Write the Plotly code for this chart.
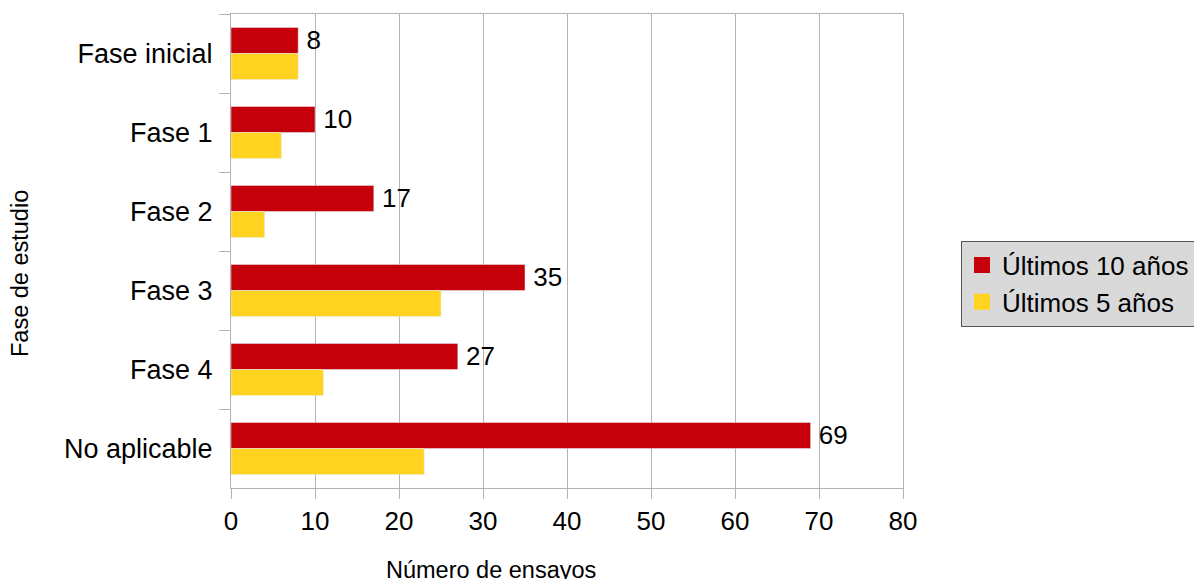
import plotly.graph_objects as go

# Ensayos clínicos por fase de estudio
fases = ["Fase inicial", "Fase 1", "Fase 2", "Fase 3", "Fase 4", "No aplicable"]
ultimos_10 = [8, 10, 17, 35, 27, 69]
ultimos_5 = [8, 6, 4, 25, 11, 23]
x_ticks = [0, 10, 20, 30, 40, 50, 60, 70, 80]

ROJO = "#C5000B"
AMARILLO = "#FFD320"
GRIS = "#b3b3b3"
FONT = "Liberation Sans, Arial, sans-serif"

W, H = 1194, 579
L, R, T, B = 231, 903, 14, 488

fig = go.Figure()
fig.add_trace(go.Bar(
    y=fases, x=ultimos_10, orientation="h", marker_color=ROJO,
    name="Últimos 10 años", showlegend=False,
    text=ultimos_10, texttemplate="\u2009%{text}",
    textposition="outside", constraintext="none",
    textfont=dict(size=26, color="#000000", family=FONT), cliponaxis=False,
))
fig.add_trace(go.Bar(
    y=fases, x=ultimos_5, orientation="h", marker_color=AMARILLO,
    name="Últimos 5 años", showlegend=False,
))
# legend entries with larger square swatches
for nombre, color in [("Últimos 10 años", ROJO), ("Últimos 5 años", AMARILLO)]:
    fig.add_trace(go.Scatter(
        x=[None], y=[None], mode="markers", name=nombre,
        marker=dict(symbol="square", size=16, color=color),
    ))

fig.update_layout(
    width=W, height=H,
    margin=dict(l=L, r=W - R, t=T, b=H - B, autoexpand=False),
    paper_bgcolor="white", plot_bgcolor="white",
    barmode="group", bargap=0.34, bargroupgap=0,
    font=dict(family=FONT, size=26, color="#000000"),
    showlegend=True,
    legend=dict(
        x=(961 - L) / (R - L), xanchor="left",
        y=(B - 283.5) / (B - T), yanchor="middle",
        bgcolor="#d9d9d9", bordercolor="#555555", borderwidth=1,
        font=dict(size=26, family=FONT, color="#000000"),
        tracegroupgap=0,
    ),
    xaxis=dict(
        range=[0, 80], tickvals=x_ticks, ticktext=[str(v) for v in x_ticks],
        showgrid=True, gridcolor=GRIS, gridwidth=1, zeroline=False,
        showline=True, linecolor=GRIS, linewidth=1, mirror=True,
        ticks="outside", ticklen=10, tickcolor=GRIS, tickwidth=1,
        tickfont=dict(size=26, family=FONT),
    ),
    yaxis=dict(
        type="category", autorange="reversed",
        showgrid=False, zeroline=False,
        showline=True, linecolor=GRIS, linewidth=1, mirror=True,
        ticks="outside", ticklen=11, tickcolor=GRIS, tickwidth=1,
        tickson="boundaries", ticklabelstandoff=12,
        tickfont=dict(size=27, family=FONT),
    ),
    annotations=[
        dict(text="Número de ensayos", xref="paper", yref="paper",
             x=(491 - L) / (R - L), y=(B - 570) / (B - T),
             xanchor="center", yanchor="middle", showarrow=False,
             font=dict(size=23.5, family=FONT)),
        dict(text="Fase de estudio", xref="paper", yref="paper",
             x=(20 - L) / (R - L), y=(B - 274) / (B - T), textangle=-90,
             xanchor="center", yanchor="middle", showarrow=False,
             font=dict(size=23.5, family=FONT)),
    ],
)

fig.write_html("out.html")
